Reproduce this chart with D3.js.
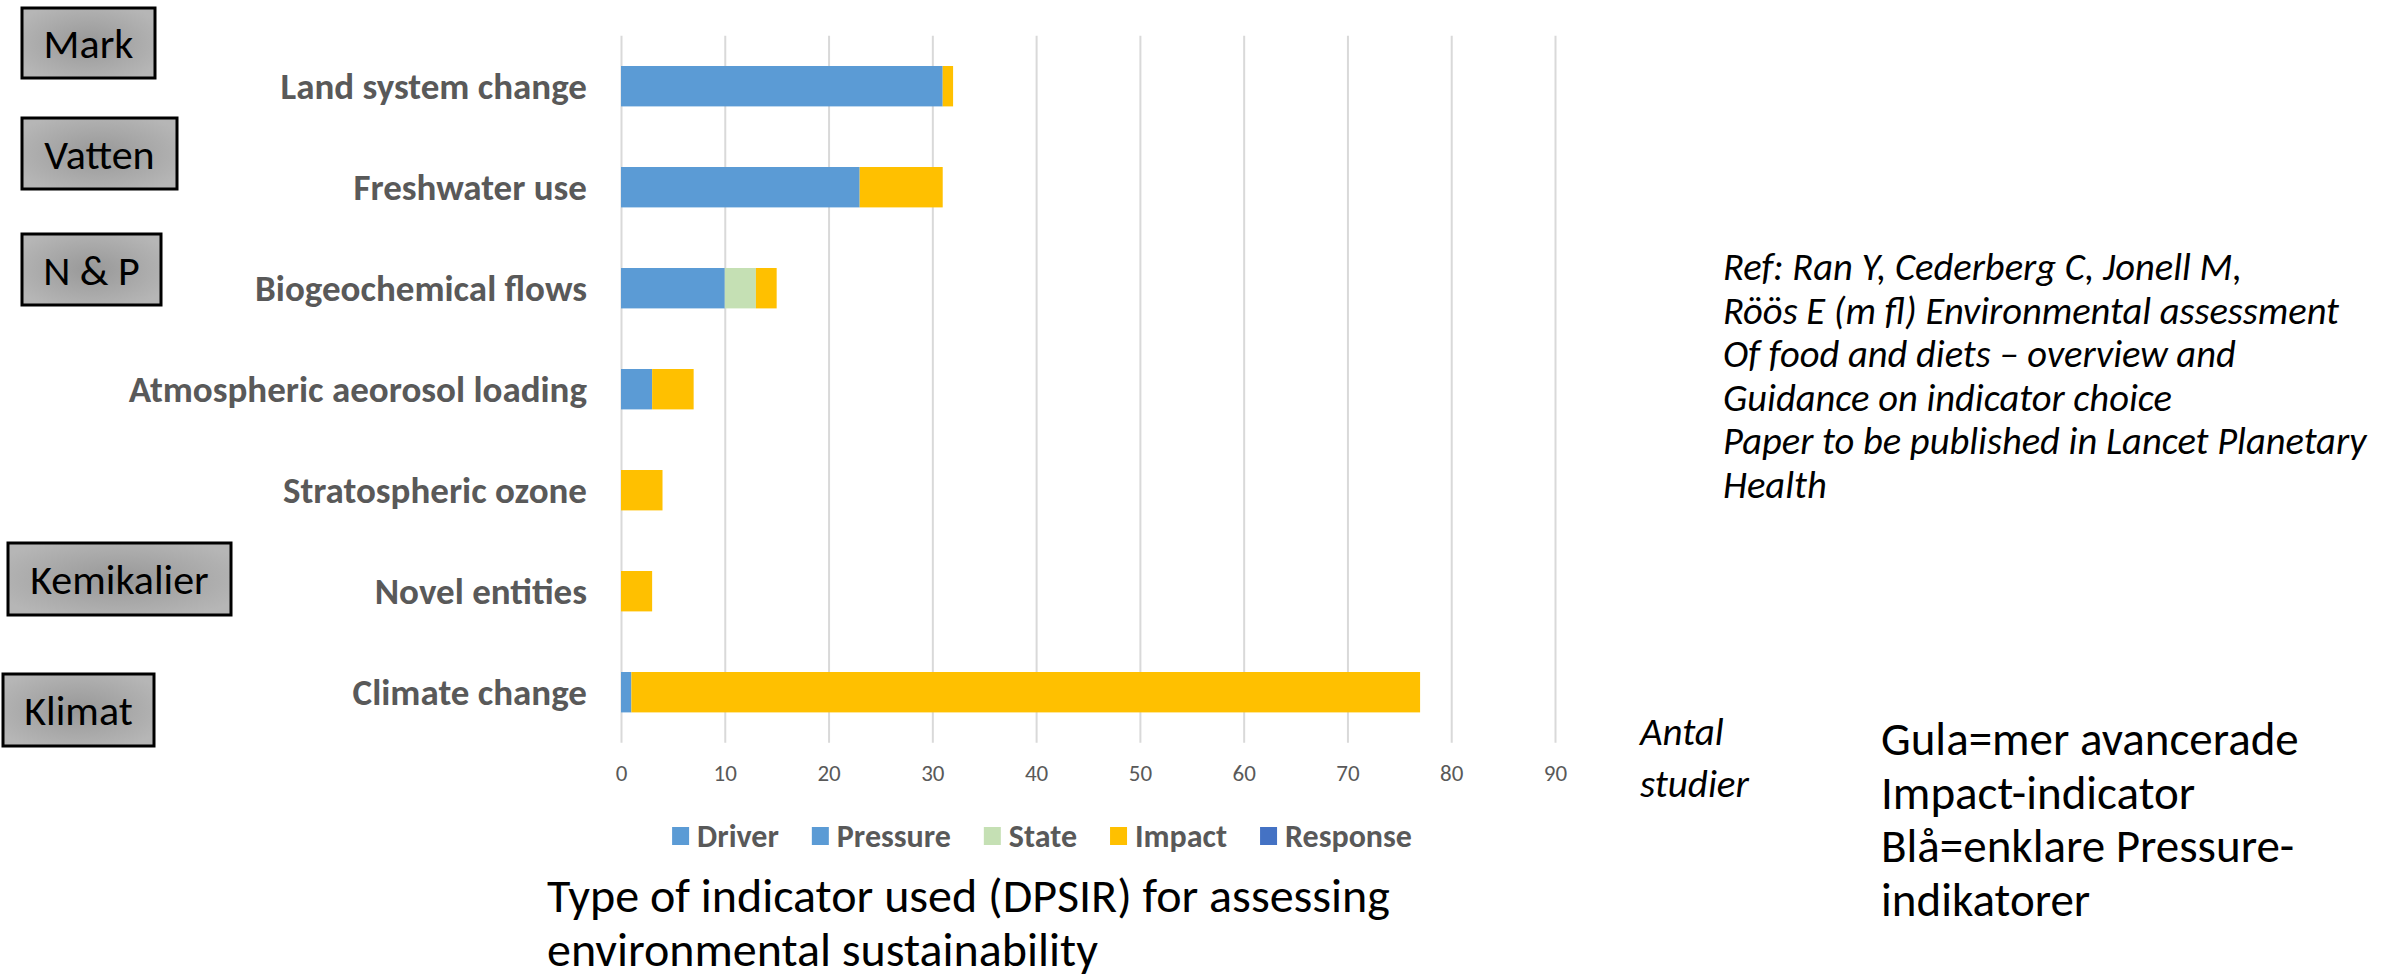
<!DOCTYPE html>
<html>
<head>
<meta charset="utf-8">
<script src="https://cdn.jsdelivr.net/npm/d3@7"></script>
<style>
  body { margin: 0; background: #fff; }
  svg { display: block; }
  text { font-family: Carlito, Calibri, Lato, sans-serif; }
</style>
</head>
<body>
<div id="chart"></div>
<script>
const categories = ['Land system change', 'Freshwater use', 'Biogeochemical flows',
  'Atmospheric aeorosol loading', 'Stratospheric ozone', 'Novel entities', 'Climate change'];
const seriesNames = ['Driver', 'Pressure', 'State', 'Impact', 'Response'];
const driver   = [0, 0, 0, 0, 0, 0, 0];
const pressure = [31, 23, 10, 3, 0, 0, 1];
const state    = [0, 0, 3, 0, 0, 0, 0];
const impact   = [1, 8, 2, 4, 4, 3, 76];
const response = [0, 0, 0, 0, 0, 0, 0];
const xTicks = [0, 10, 20, 30, 40, 50, 60, 70, 80, 90];
const seriesColors = ['#5B9BD5', '#5B9BD5', '#C5E0B4', '#FFC000', '#4472C4'];

const boxLabels = ['Mark', 'Vatten', 'N & P', 'Kemikalier', 'Klimat'];
const refLines = ['Ref: Ran Y, Cederberg C, Jonell M,', 'Röös E (m fl) Environmental assessment',
  'Of food and diets \u2013 overview and', 'Guidance on indicator choice',
  'Paper to be published in Lancet Planetary', 'Health'];
const axisNote = ['Antal', 'studier'];
const noteLines = ['Gula=mer avancerade', 'Impact-indicator', 'Blå=enklare Pressure-', 'indikatorer'];
const titleLines = ['Type of indicator used (DPSIR) for assessing', 'environmental sustainability'];

const width = 2397, height = 977;
const plotLeft = 621, plotRight = 1555, plotTop = 35.7, plotBottom = 742.7;

const svg = d3.select('#chart').append('svg')
  .attr('width', width).attr('height', height);

const rows = categories.map((c, i) => ({
  cat: c, Driver: driver[i], Pressure: pressure[i], State: state[i], Impact: impact[i], Response: response[i]
}));
const stacked = d3.stack().keys(seriesNames)(rows);

const x = d3.scaleLinear().domain([0, 90]).range([plotLeft, plotRight]);
const y = d3.scaleBand().domain(categories).range([plotTop, plotBottom])
  .paddingInner(0.6).paddingOuter(0.3);
const color = d3.scaleOrdinal().domain(seriesNames).range(seriesColors);

// gridlines + tick labels
const xAxis = d3.axisBottom(x).tickValues(xTicks)
  .tickSize(-(plotBottom - plotTop)).tickPadding(22);
const gx = svg.append('g')
  .attr('transform', `translate(0,${plotBottom})`)
  .call(xAxis);
gx.select('.domain').remove();
gx.selectAll('line').attr('stroke', '#d9d9d9').attr('stroke-width', 2);
gx.selectAll('text').attr('fill', '#595959').style('font-size', '23px')
  .style('font-family', 'Carlito, Calibri, Lato, sans-serif');

// bars
svg.append('g').selectAll('g')
  .data(stacked)
  .join('g')
  .attr('fill', d => color(d.key))
  .selectAll('rect')
  .data(d => d.filter(s => s[1] - s[0] > 0))
  .join('rect')
  .attr('x', d => x(d[0]))
  .attr('y', d => y(d.data.cat))
  .attr('width', d => x(d[1]) - x(d[0]))
  .attr('height', y.bandwidth());

// category labels
svg.append('g').selectAll('text')
  .data(categories)
  .join('text')
  .attr('x', 587)
  .attr('y', d => y(d) + y.bandwidth() / 2)
  .attr('dy', '0.35em')
  .attr('text-anchor', 'end')
  .attr('fill', '#595959')
  .style('font-weight', 'bold')
  .style('font-size', '37px')
  .text(d => d);

// legend
const legend = svg.append('g');
const legendItems = legend.selectAll('g')
  .data(seriesNames)
  .join('g');
legendItems.append('rect')
  .attr('width', 17).attr('height', 18)
  .attr('y', -9)
  .attr('fill', d => color(d));
legendItems.append('text')
  .attr('x', 25)
  .attr('dy', '0.35em')
  .attr('fill', '#595959')
  .style('font-weight', 'bold')
  .style('font-size', '32px')
  .text(d => d);
let lx = 0;
legendItems.each(function () {
  const w = this.getBBox().width;
  d3.select(this).attr('transform', `translate(${lx},0)`);
  lx += w + 33;
});
lx -= 33;
legend.attr('transform', `translate(${1042 - lx / 2},836)`);

// grey category boxes on the left
const boxes = [
  {x: 22, y: 8, w: 133, h: 70},
  {x: 22, y: 118, w: 155, h: 71},
  {x: 22, y: 234, w: 139, h: 71},
  {x: 8, y: 543, w: 223, h: 72},
  {x: 3, y: 674, w: 151, h: 72}
];
const defs = svg.append('defs');
const grad = defs.append('radialGradient').attr('id', 'boxGrad')
  .attr('cx', '50%').attr('cy', '50%').attr('r', '60%');
grad.append('stop').attr('offset', '0%').attr('stop-color', '#989898');
grad.append('stop').attr('offset', '100%').attr('stop-color', '#b6b6b6');

const boxG = svg.append('g').selectAll('g')
  .data(boxes)
  .join('g')
  .attr('transform', d => `translate(${d.x},${d.y})`);
boxG.append('rect')
  .attr('width', d => d.w).attr('height', d => d.h)
  .attr('fill', 'url(#boxGrad)')
  .attr('stroke', '#000').attr('stroke-width', 3);
boxG.append('text')
  .attr('x', d => d.w / 2)
  .attr('y', d => d.h / 2 + 15)
  .attr('text-anchor', 'middle')
  .attr('fill', '#000')
  .style('font-size', '42px')
  .text((d, i) => boxLabels[i]);

// reference text
svg.append('g').selectAll('text')
  .data(refLines)
  .join('text')
  .attr('x', 1723)
  .attr('y', (d, i) => 280 + i * 43.5)
  .attr('fill', '#000')
  .style('font-style', 'italic')
  .style('font-size', '38.5px')
  .text(d => d);

// axis note
svg.append('g').selectAll('text')
  .data(axisNote)
  .join('text')
  .attr('x', 1640)
  .attr('y', (d, i) => 745 + i * 52)
  .attr('fill', '#000')
  .style('font-style', 'italic')
  .style('font-size', '39px')
  .text(d => d);

// colour note
svg.append('g').selectAll('text')
  .data(noteLines)
  .join('text')
  .attr('x', 1881)
  .attr('y', (d, i) => 755 + i * 53.5)
  .attr('fill', '#000')
  .style('font-size', '47px')
  .text(d => d);

// title
svg.append('g').selectAll('text')
  .data(titleLines)
  .join('text')
  .attr('x', 547)
  .attr('y', (d, i) => 912 + i * 54)
  .attr('fill', '#000')
  .style('font-size', '48px')
  .text(d => d);
</script>
</body>
</html>
